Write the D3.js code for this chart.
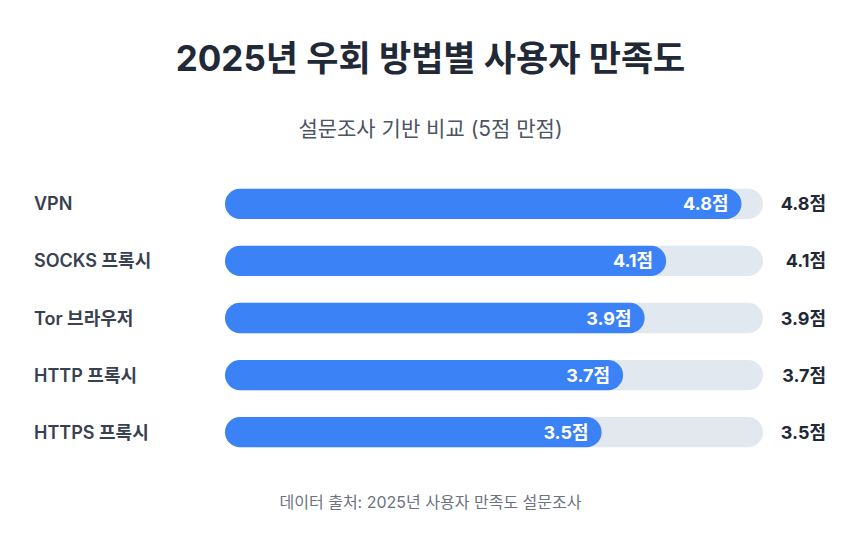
<!DOCTYPE html>
<html>
<head>
<meta charset="utf-8">
<script src="https://cdn.jsdelivr.net/npm/d3@7"></script>
<style>
  body { margin: 0; background: #fff; font-family: Inter, "Noto Sans CJK KR", sans-serif; }
  .title { font-size: 35px; font-weight: 700; fill: #1f2937; }
  .subtitle { font-size: 21px; fill: #4b5563; }
  .label { font-size: 18px; font-weight: 600; fill: #374151; }
  .inner { font-size: 18px; font-weight: 700; fill: #fff; }
  .value { font-size: 18px; font-weight: 700; fill: #1f2937; }
  .source { font-size: 16px; fill: #6b7280; }
</style>
</head>
<body>
<div id="container"></div>
<script>
// data
const methods = ['VPN', 'SOCKS 프록시', 'Tor 브라우저', 'HTTP 프록시', 'HTTPS 프록시']
const scores = [4.8, 4.1, 3.9, 3.7, 3.5]
const maxScore = 5

const W = 857, H = 552
const svg = d3.select('#container').append('svg')
  .attr('width', W).attr('height', H)

// x scale: score -> track width
const x = d3.scaleLinear().domain([0, maxScore]).range([225, 763])
// y scale: one band per method
const y = d3.scaleBand().domain(methods).range([175, 461]).paddingInner(0.47).paddingOuter(0.24)
const bh = y.bandwidth()

svg.append('text').attr('class', 'title')
  .attr('x', W / 2 + 2).attr('y', 71).attr('text-anchor', 'middle')
  .text('2025년 우회 방법별 사용자 만족도')

svg.append('text').attr('class', 'subtitle')
  .attr('x', W / 2 + 2).attr('y', 136).attr('text-anchor', 'middle')
  .text('설문조사 기반 비교 (5점 만점)')

const rows = svg.selectAll('g.row')
  .data(methods.map((m, i) => ({ name: m, value: scores[i] })))
  .enter().append('g').attr('class', 'row')

// background track
rows.append('rect')
  .attr('x', x(0)).attr('y', d => y(d.name))
  .attr('width', x(maxScore) - x(0)).attr('height', bh)
  .attr('rx', bh / 2).attr('fill', '#e2e8f0')

// bar
rows.append('rect')
  .attr('x', x(0)).attr('y', d => y(d.name))
  .attr('width', d => x(d.value) - x(0)).attr('height', bh)
  .attr('rx', bh / 2).attr('fill', '#3b82f6')

// category labels
rows.append('text').attr('class', 'label')
  .attr('x', 34).attr('y', d => y(d.name) + bh / 2)
  .attr('dominant-baseline', 'central')
  .text(d => d.name)

// label inside the bar
rows.append('text').attr('class', 'inner')
  .attr('x', d => x(d.value) - 13).attr('y', d => y(d.name) + bh / 2)
  .attr('text-anchor', 'end').attr('dominant-baseline', 'central')
  .text(d => `${d.value}점`)

// value on the right
rows.append('text').attr('class', 'value')
  .attr('x', 826).attr('y', d => y(d.name) + bh / 2)
  .attr('text-anchor', 'end').attr('dominant-baseline', 'central')
  .text(d => `${d.value}점`)

svg.append('text').attr('class', 'source')
  .attr('x', W / 2 + 2).attr('y', 508).attr('text-anchor', 'middle')
  .text('데이터 출처: 2025년 사용자 만족도 설문조사')
</script>
</body>
</html>
